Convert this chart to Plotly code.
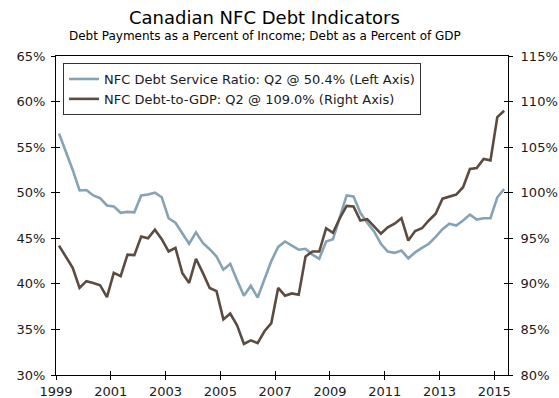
import plotly.graph_objects as go

# ---- data (quarterly, 1999Q1 .. 2015Q2) ----
quarters = [f"{1999 + i // 4}Q{i % 4 + 1}" for i in range(66)]

debt_service_ratio = [56.5, 54.5, 52.5, 50.25, 50.3, 49.7, 49.4, 48.6, 48.5, 47.8, 47.9, 47.85,
                      49.7, 49.8, 50.0, 49.5, 47.2, 46.7, 45.6, 44.4, 45.65, 44.5, 43.8, 43.0,
                      41.55, 42.2, 40.4, 38.7, 39.8, 38.5, 40.5, 42.5, 44.05, 44.65, 44.2, 43.75,
                      43.85, 43.2, 42.75, 44.65, 44.9, 47.4, 49.7, 49.6, 47.8, 46.7, 45.75, 44.4,
                      43.55, 43.4, 43.65, 42.8, 43.45, 43.95, 44.4, 45.15, 46.0, 46.6, 46.4, 46.95,
                      47.6, 47.05, 47.2, 47.2, 49.5, 50.4]

debt_to_gdp = [94.2, 93.0, 91.75, 89.55, 90.3, 90.1, 89.85, 88.55, 91.2, 90.85, 93.2, 93.15,
               95.2, 95.0, 95.95, 94.9, 93.55, 93.95, 91.2, 90.1, 92.75, 91.2, 89.55, 89.2,
               86.1, 86.75, 85.45, 83.4, 83.8, 83.5, 84.8, 85.7, 89.55, 88.7, 88.95, 88.8,
               93.0, 93.55, 93.55, 96.1, 95.6, 97.2, 98.55, 98.5, 96.95, 97.1, 96.25, 95.5,
               96.2, 96.6, 97.2, 94.75, 95.8, 96.1, 96.95, 97.7, 99.35, 99.6, 99.8, 100.6,
               102.6, 102.7, 103.7, 103.55, 108.3, 109.0]

tick_years = [1999, 2001, 2003, 2005, 2007, 2009, 2011, 2013, 2015]
left_ticks = [30, 35, 40, 45, 50, 55, 60, 65]
right_ticks = [80, 85, 90, 95, 100, 105, 110, 115]

name_dsr = "NFC Debt Service Ratio: Q2 @ 50.4% (Left Axis)"
name_gdp = "NFC Debt-to-GDP: Q2 @ 109.0% (Right Axis)"

# ---- styling ----
BLUE = "#86A3B6"
BROWN = "#5B4B40"
FONT = "DejaVu Sans"
TXT = "#1a1a1a"

t = [int(q[:4]) + (int(q[-1]) - 1) / 4 for q in quarters]
x_range = [1998.89, 2015.39]
tickvals = [y - 0.11 for y in tick_years]

fig = go.Figure()
fig.add_trace(go.Scatter(x=t, y=debt_service_ratio, name=name_dsr, mode="lines",
                         legendgroup="a", line=dict(color=BLUE, width=2.6)))
fig.add_trace(go.Scatter(x=t, y=debt_to_gdp, name=name_gdp, mode="lines", yaxis="y2",
                         legendgroup="b", line=dict(color=BROWN, width=2.6)))
# empty helper traces so the inward tick axes get drawn
fig.add_trace(go.Scatter(x=[None], y=[None], xaxis="x2", yaxis="y3", showlegend=False,
                         hoverinfo="skip"))
fig.add_trace(go.Scatter(x=[None], y=[None], xaxis="x", yaxis="y4", showlegend=False,
                         hoverinfo="skip"))

axis_common = dict(showgrid=False, zeroline=False, automargin=False,
                   tickfont=dict(family=FONT, size=13, color=TXT))
inner_common = dict(showticklabels=False, showline=False, showgrid=False, zeroline=False,
                    automargin=False, ticks="inside", ticklen=4, tickcolor="black",
                    tickmode="array")

fig.update_layout(
    width=559, height=398,
    margin=dict(l=56, r=51, t=56, b=23),
    paper_bgcolor="white", plot_bgcolor="white",
    font=dict(family=FONT, color=TXT),
    showlegend=True,
    xaxis=dict(range=x_range, tickmode="array", tickvals=tickvals,
               ticktext=[str(y) for y in tick_years], ticks="outside", ticklen=4,
               tickcolor="black", showline=True, linecolor="black", linewidth=1,
               mirror=True, **axis_common),
    xaxis2=dict(range=x_range, overlaying="x", anchor="y", tickvals=tickvals, **inner_common),
    yaxis=dict(range=[30, 65], tickmode="array", tickvals=left_ticks,
               ticktext=[f"{v}%" for v in left_ticks], ticks="outside", ticklen=4,
               tickcolor="black", showline=True, linecolor="black", linewidth=1,
               ticklabelstandoff=3, **axis_common),
    yaxis2=dict(range=[80, 115], overlaying="y", side="right", anchor="x",
                tickmode="array", tickvals=right_ticks,
                ticktext=[f"{v}%" for v in right_ticks], ticks="outside", ticklen=4,
                tickcolor="black", showline=True, linecolor="black", linewidth=1,
                ticklabelstandoff=5, **axis_common),
    yaxis3=dict(range=[30, 65], overlaying="y", side="left", anchor="x2",
                tickvals=left_ticks, **inner_common),
    yaxis4=dict(range=[80, 115], overlaying="y", side="right", anchor="x",
                tickvals=right_ticks, **inner_common),
    legend=dict(x=0.0155, y=0.978, xanchor="left", yanchor="top",
                bgcolor="white", bordercolor="#333333", borderwidth=1,
                font=dict(family=FONT, size=13, color=TXT),
                itemwidth=30, tracegroupgap=0),
    annotations=[
        dict(text="Canadian NFC Debt Indicators", xref="paper", yref="paper",
             x=0.462, y=1.122, xanchor="center", yanchor="middle", showarrow=False,
             font=dict(family=FONT, size=18, color="black")),
        dict(text="Debt Payments as a Percent of Income; Debt as a Percent of GDP",
             xref="paper", yref="paper", x=0.462, y=1.063, xanchor="center",
             yanchor="middle", showarrow=False,
             font=dict(family=FONT, size=12, color="black")),
    ],
)

fig.write_html("out.html")
